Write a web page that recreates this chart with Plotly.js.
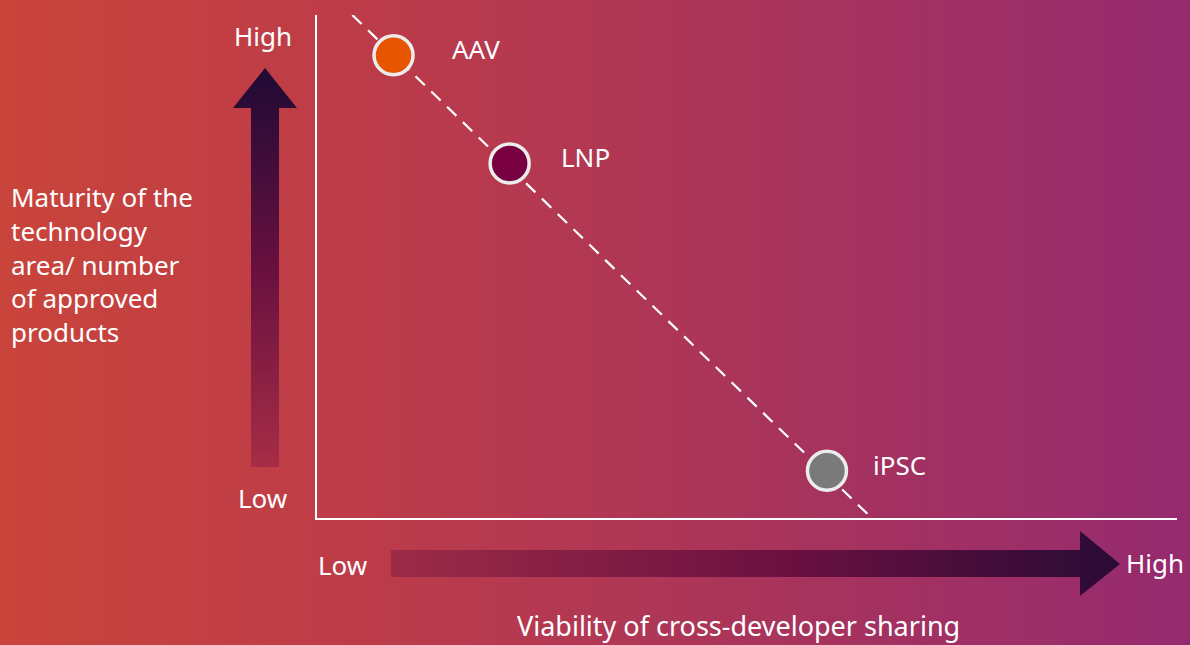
<!DOCTYPE html>
<html>
<head>
<meta charset="utf-8">
<script src="https://cdn.plot.ly/plotly-3.0.1.min.js"></script>
<style>
  html, body { margin:0; padding:0; }
  #chart { width:1190px; height:645px;
    background: linear-gradient(90deg, #c9443a 0%, #bb3b4a 33%, #a8345c 66%, #952a6f 100%); }
</style>
</head>
<body>
<div id="chart"></div>
<script>
// ---- data ----
const technologies = ["AAV", "LNP", "iPSC"];
const sharingViability = [0.89, 2.24, 5.93];   // x: viability of cross-developer sharing (0-10)
const maturity = [9.20, 7.05, 0.94];           // y: maturity / approved products (0-10)
const pointColors = ["#e85500", "#780040", "#7a7a7a"];
const trendX = [0.41, 6.45];
const trendY = [10, 0];

// ---- decoration (pixel-space overlay) ----
const labelShift = [56, 49, 44];
const vArrow = { x: [251, 251, 233, 265, 297, 279, 279, 251], y: [467, 108, 108, 68, 108, 108, 467, 467] };
const hArrow = { x: [391, 1080, 1080, 1120, 1080, 1080, 391, 391], y: [550, 550, 531, 564, 596, 577, 577, 550] };

const FONT = "Noto Sans, Open Sans, sans-serif";

const traces = [
  {
    x: vArrow.x, y: vArrow.y, xaxis: "x2", yaxis: "y2",
    mode: "lines", fill: "toself", line: { width: 0 }, hoverinfo: "skip", showlegend: false,
    fillgradient: { type: "vertical", start: 467, stop: 68,
      colorscale: [[0, "#a62d46"], [0.5, "#68103f"], [1, "#1f0a35"]] }
  },
  {
    x: hArrow.x, y: hArrow.y, xaxis: "x2", yaxis: "y2",
    mode: "lines", fill: "toself", line: { width: 0 }, hoverinfo: "skip", showlegend: false,
    fillgradient: { type: "horizontal", start: 391, stop: 1120,
      colorscale: [[0, "#9c2b47"], [0.55, "#6a1040"], [1, "#2a0b36"]] }
  },
  {
    x: trendX, y: trendY, mode: "lines",
    line: { color: "#ffffff", width: 2.2, dash: "13px,9px" },
    hoverinfo: "skip", showlegend: false, cliponaxis: false
  },
  {
    x: sharingViability, y: maturity, mode: "markers", text: technologies,
    marker: { size: 39, color: pointColors, line: { color: "#ececec", width: 3.5 } },
    showlegend: false, cliponaxis: false
  }
];

const annotations = [];
technologies.forEach((t, i) => {
  annotations.push({
    x: sharingViability[i], y: maturity[i], xref: "x", yref: "y",
    text: t, showarrow: false, xanchor: "left", yanchor: "middle",
    xshift: labelShift[i], yshift: 6,
    font: { family: FONT, size: 26, color: "#ffffff" }
  });
});
function pa(text, px, py, xanchor, size, align) {
  annotations.push({
    x: px / 1190, y: (645 - py) / 645, xref: "paper", yref: "paper",
    text: text, showarrow: false, xanchor: xanchor, yanchor: "middle", align: align || "center",
    font: { family: FONT, size: size, color: "#ffffff" }
  });
}
pa("High", 263, 36, "center", 26);
pa("Low", 263, 498, "center", 26);
pa("Low", 343, 565, "center", 26);
pa("High", 1155, 563, "center", 26);
pa("Maturity of the<br>technology<br>area/ number<br>of approved<br>products", 9, 265, "left", 26, "left");
pa("Viability of cross-developer sharing", 738, 625, "center", 27);

const axisCommon = {
  showgrid: false, zeroline: false, showticklabels: false, ticks: "",
  showline: true, linecolor: "#ffffff", linewidth: 2, fixedrange: true
};

const layout = {
  width: 1190, height: 645,
  margin: { l: 0, r: 0, t: 0, b: 0 },
  paper_bgcolor: "rgba(0,0,0,0)", plot_bgcolor: "rgba(0,0,0,0)",
  xaxis: Object.assign({ domain: [317 / 1190, 1177 / 1190], range: [0, 10], anchor: "y" }, axisCommon),
  yaxis: Object.assign({ domain: [127 / 645, 630 / 645], range: [0, 10], anchor: "x" }, axisCommon),
  xaxis2: { domain: [0, 1], range: [0, 1190], anchor: "y2", visible: false, fixedrange: true },
  yaxis2: { domain: [0, 1], range: [645, 0], anchor: "x2", visible: false, fixedrange: true },
  annotations: annotations,
  showlegend: false
};

Plotly.newPlot("chart", traces, layout, { displayModeBar: false, staticPlot: true });
</script>
</body>
</html>
